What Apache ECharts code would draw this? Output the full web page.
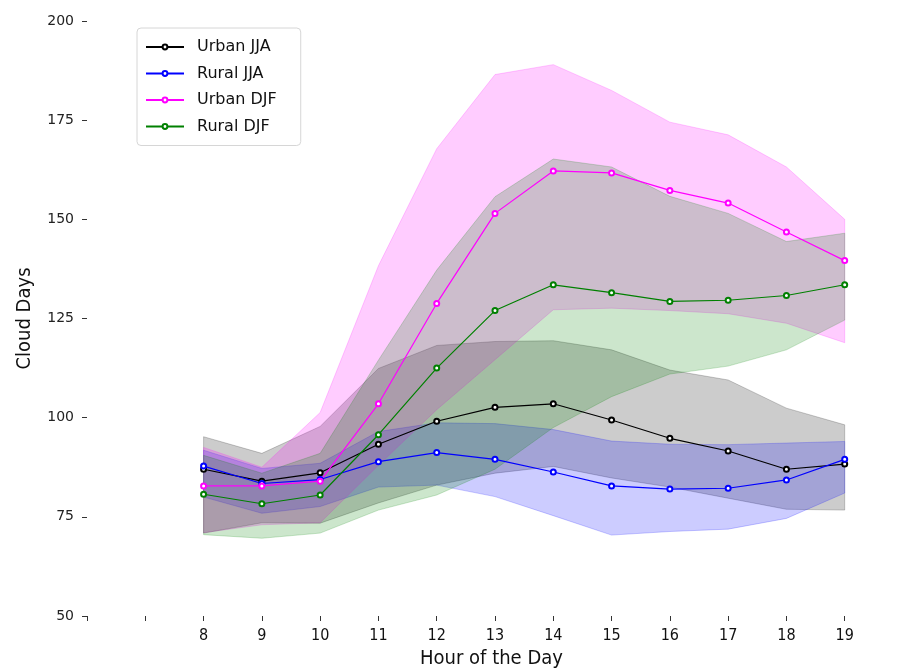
<!DOCTYPE html>
<html>
<head>
<meta charset="utf-8">
<title>Cloud Days</title>
<script src="https://cdn.jsdelivr.net/npm/echarts@6/dist/echarts.min.js"></script>
<style>
	html, body { margin: 0; padding: 0; background: #fff; }
	#main { width: 898px; height: 670px; }
</style>
</head>
<body>
<div id="main"></div>
<script>
// hours on the x axis
var hours = [8, 9, 10, 11, 12, 13, 14, 15, 16, 17, 18, 19];

// mean lines
var urbanJJA = [87.0, 84.0, 86.1, 93.3, 99.1, 102.6, 103.5, 99.4, 94.8, 91.6, 87.0, 88.3];
var ruralJJA = [87.8, 83.4, 84.4, 88.9, 91.2, 89.5, 86.3, 82.8, 82.0, 82.2, 84.3, 89.5];
var urbanDJF = [82.8, 82.8, 84.0, 103.5, 128.8, 151.5, 162.2, 161.7, 157.3, 154.1, 146.8, 139.6];
var ruralDJF = [80.7, 78.3, 80.5, 95.7, 112.5, 127.0, 133.5, 131.5, 129.3, 129.6, 130.8, 133.5];

// shaded ranges (upper / lower)
var urbanJJAUpper = [95.2, 91.0, 97.8, 112.4, 118.2, 119.2, 119.4, 117.1, 112.0, 109.5, 102.4, 98.2];
var urbanJJALower = [70.9, 73.5, 73.4, 78.5, 83.0, 86.0, 87.7, 84.8, 82.5, 79.7, 76.9, 76.7];
var ruralJJAUpper = [91.8, 87.2, 88.5, 96.5, 98.7, 98.5, 97.0, 94.1, 93.3, 93.2, 93.6, 94.0];
var ruralJJALower = [80.0, 75.9, 77.6, 82.5, 83.0, 80.1, 75.3, 70.4, 71.3, 71.9, 74.6, 81.0];
var urbanDJFUpper = [92.5, 87.5, 101.3, 138.3, 167.8, 186.5, 189.0, 182.5, 174.5, 171.3, 163.2, 150.0];
var urbanDJFLower = [71.0, 73.0, 73.5, 88.0, 102.0, 114.6, 127.2, 127.6, 127.0, 126.2, 123.8, 118.9];
var ruralDJFUpper = [90.5, 86.0, 91.0, 114.5, 137.2, 155.7, 165.2, 163.2, 155.8, 151.5, 144.4, 146.5];
var ruralDJFLower = [70.5, 69.6, 70.9, 76.7, 80.5, 87.0, 97.5, 105.3, 111.0, 113.0, 117.1, 124.6];

var yTicks = [50, 75, 100, 125, 150, 175, 200];

var narrowFont = "'Liberation Sans Narrow', 'DejaVu Sans Condensed', sans-serif";

function pairs(ys) {
	var out = [];
	for (var i = 0; i < hours.length; i++) {
		out.push([hours[i], ys[i]]);
	}
	return out;
}

// one polygon per band, corners placed through the axes
function bandSeries(name, upper, lower, color) {
	return {
		name: name + ' band',
		type: 'custom',
		z: 1,
		silent: true,
		data: [[hours[0], lower[0]]],
		renderItem: function (params, api) {
			var pts = [];
			for (var i = 0; i < hours.length; i++) {
				pts.push(api.coord([hours[i], upper[i]]));
			}
			for (var j = hours.length - 1; j >= 0; j--) {
				pts.push(api.coord([hours[j], lower[j]]));
			}
			return {
				type: 'polygon',
				shape: { points: pts },
				style: { fill: color, stroke: color, lineWidth: 1 }
			};
		}
	};
}

function lineSeries(name, ys, color) {
	return {
		name: name,
		type: 'line',
		z: 3,
		data: pairs(ys),
		symbol: 'emptyCircle',
		symbolSize: 5,
		lineStyle: { color: color, width: 1.2 },
		itemStyle: { color: color, borderColor: color, borderWidth: 1.2 }
	};
}

var myChart = echarts.init(document.getElementById('main'));

var option = {
	animation: false,
	backgroundColor: '#fff',
	grid: { left: 87, right: 2, top: 21, bottom: 54, outerBoundsMode: 'none', containLabel: false },
	legend: {
		data: ['Urban JJA', 'Rural JJA', 'Urban DJF', 'Rural DJF'],
		orient: 'vertical',
		left: 137,
		top: 28,
		padding: [10, 24, 10, 8],
		itemWidth: 38,
		itemHeight: 6,
		itemGap: 8.5,
		borderColor: '#d6d6d6',
		borderWidth: 1,
		borderRadius: 4,
		backgroundColor: '#fff',
		textStyle: { fontFamily: 'DejaVu Sans', fontSize: 16, lineHeight: 18, color: '#111', padding: [0, 0, 0, 8] }
	},
	xAxis: {
		type: 'value',
		min: 6,
		max: 19.88,
		interval: 1,
		name: 'Hour of the Day',
		nameLocation: 'middle',
		nameGap: 32,
		nameTextStyle: { fontFamily: narrowFont, fontSize: 20, color: '#111' },
		axisLine: { show: false },
		axisTick: { show: true, length: 5, lineStyle: { color: '#333' } },
		splitLine: { show: false },
		axisLabel: {
			margin: 12,
			fontFamily: narrowFont,
			fontSize: 16,
			color: '#111',
			showMaxLabel: false,
			formatter: function (v) { return v >= 8 ? String(v) : ''; }
		}
	},
	yAxis: {
		type: 'value',
		min: yTicks[0],
		max: yTicks[yTicks.length - 1],
		interval: 25,
		name: 'Cloud Days',
		nameLocation: 'middle',
		nameGap: 52,
		nameTextStyle: { fontFamily: narrowFont, fontSize: 20, color: '#111' },
		axisLine: { show: false },
		axisTick: { show: true, length: 5, lineStyle: { color: '#333' } },
		splitLine: { show: false },
		axisLabel: { margin: 13, fontFamily: 'DejaVu Sans', fontSize: 14, color: '#222' }
	},
	series: [
		bandSeries('Urban JJA', urbanJJAUpper, urbanJJALower, 'rgba(0,0,0,0.2)'),
		bandSeries('Rural JJA', ruralJJAUpper, ruralJJALower, 'rgba(0,0,255,0.2)'),
		bandSeries('Urban DJF', urbanDJFUpper, urbanDJFLower, 'rgba(255,0,255,0.2)'),
		bandSeries('Rural DJF', ruralDJFUpper, ruralDJFLower, 'rgba(0,128,0,0.2)'),
		lineSeries('Urban JJA', urbanJJA, '#000000'),
		lineSeries('Rural JJA', ruralJJA, '#0000ff'),
		lineSeries('Urban DJF', urbanDJF, '#ff00ff'),
		lineSeries('Rural DJF', ruralDJF, '#008000')
	]
};

myChart.setOption(option);
</script>
</body>
</html>
